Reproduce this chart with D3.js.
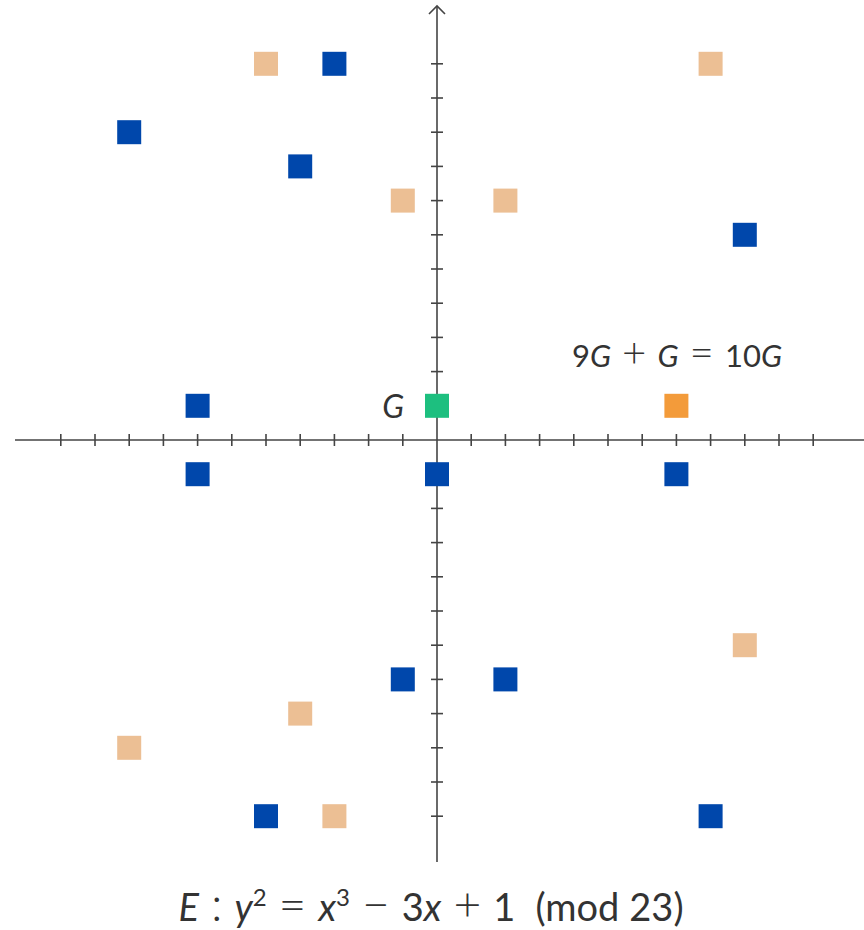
<!DOCTYPE html>
<html>
<head>
<meta charset="utf-8">
<script src="https://cdn.jsdelivr.net/npm/d3@7"></script>
<style>
  html, body { margin: 0; padding: 0; background: #fff; }
  svg { display: block; }
  text { font-family: Lato, "Open Sans", sans-serif; fill: #333; }
  .op { font-weight: 300; }
</style>
</head>
<body>
<svg id="chart" width="864" height="930"></svg>
<script>
(function () {
  'use strict';

  // --- Points of E : y^2 = x^3 - 3x + 1 (mod 23), centred residues ---
  var bluePoints = [
    [-3, 11], [-9, 9], [-4, 8], [9, 6], [-7, 1], [-7, -1],
    [0, -1], [7, -1], [-1, -7], [2, -7], [-5, -11], [8, -11]
  ];
  var tanPoints = [
    [-5, 11], [8, 11], [-1, 7], [2, 7], [9, -6], [-4, -8], [-9, -9], [-3, -11]
  ];
  var generator = [[0, 1]];
  var sumPoint  = [[7, 1]];
  var tickValues = d3.range(-11, 12).filter(function (v) { return v !== 0; });

  var COLORS = { blue: '#0047ab', tan: '#ecbf94', green: '#1dbf7f', orange: '#f39b3a' };
  var AXIS   = '#444';
  var SIZE   = 24;

  var svg = d3.select('#chart');
  var x = d3.scaleLinear().domain([-11, 11]).range([60.8, 813.2]);
  var y = d3.scaleLinear().domain([-11, 11]).range([816.2, 63.8]);
  var x0 = x(0), y0 = y(0);

  var axes = svg.append('g').attr('stroke', AXIS).attr('stroke-width', 1.6).attr('fill', 'none');

  // axis lines
  axes.append('line').attr('x1', 15).attr('x2', 870).attr('y1', y0).attr('y2', y0);
  axes.append('line').attr('x1', x0).attr('x2', x0).attr('y1', 862).attr('y2', 6);
  // open arrow at the top
  axes.append('path')
    .attr('d', 'M' + (x0 - 8) + ',' + 14 + 'L' + x0 + ',' + 6 + 'L' + (x0 + 8) + ',' + 14);

  // ticks, crossing the axes
  axes.selectAll('line.xt').data(tickValues).enter().append('line')
    .attr('class', 'xt')
    .attr('x1', function (d) { return x(d); }).attr('x2', function (d) { return x(d); })
    .attr('y1', y0 - 6).attr('y2', y0 + 6);
  axes.selectAll('line.yt').data(tickValues).enter().append('line')
    .attr('class', 'yt')
    .attr('y1', function (d) { return y(d); }).attr('y2', function (d) { return y(d); })
    .attr('x1', x0 - 6).attr('x2', x0 + 6);

  function drawSquares(data, color) {
    svg.append('g').selectAll('rect').data(data).enter().append('rect')
      .attr('x', function (d) { return x(d[0]) - SIZE / 2; })
      .attr('y', function (d) { return y(d[1]) - SIZE / 2; })
      .attr('width', SIZE).attr('height', SIZE)
      .attr('fill', color);
  }
  drawSquares(tanPoints, COLORS.tan);
  drawSquares(bluePoints, COLORS.blue);
  drawSquares(generator, COLORS.green);
  drawSquares(sumPoint, COLORS.orange);

  // parts: [text, kind, gapBefore]  i = italic, n = normal, o = operator, s = superscript
  // operators get `gap` px on both sides
  function mathText(node, parts, opts) {
    var pending = 0;
    parts.forEach(function (p, i) {
      var t = node.append('tspan').text(p[0]);
      var dx = pending + (p[2] || 0);
      pending = 0;
      if (p[1] === 'i') t.style('font-style', 'italic');
      if (p[1] === 'o') {
        t.attr('class', 'op').style('font-size', opts.opSize + 'px');
        dx += opts.gap;
        pending = opts.gap;
      }
      if (p[1] === 's') t.attr('dy', -opts.supRise).style('font-size', opts.supSize + 'px');
      if (i > 0 && parts[i - 1][1] === 's') t.attr('dy', opts.supRise);
      if (dx) t.attr('dx', dx);
    });
  }

  svg.append('text')
    .attr('x', x(0) - 33).attr('y', y(1) + 12)
    .attr('text-anchor', 'end')
    .style('font-size', '32px').style('font-style', 'italic')
    .text('G');

  var sumLabel = svg.append('text')
    .attr('x', 782).attr('y', 367)
    .attr('text-anchor', 'end')
    .style('font-size', '31px');
  mathText(sumLabel, [
    ['9', 'n'], ['G', 'i'], ['+', 'o'], ['G', 'i'],
    ['=', 'o'], ['10', 'n'], ['G', 'i']
  ], { opSize: 42, supSize: 22, supRise: 13, gap: 11 });

  var title = svg.append('text')
    .attr('x', 431).attr('y', 921)
    .attr('text-anchor', 'middle')
    .style('font-size', '38px');
  mathText(title, [
    ['E', 'i'], [':', 'o'], ['y', 'i'], ['2', 's'], ['=', 'o'],
    ['x', 'i'], ['3', 's'], ['\u2212', 'o'], ['3', 'n'], ['x', 'i'],
    ['+', 'o'], ['1', 'n'], ['(mod', 'n', 20], ['23)', 'n', 10]
  ], { opSize: 48, supSize: 24, supRise: 15, gap: 12 });
})();
</script>
</body>
</html>
